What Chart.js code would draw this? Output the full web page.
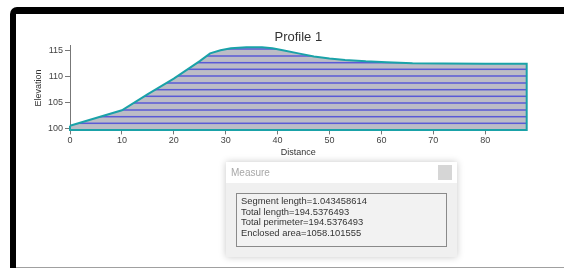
<!DOCTYPE html>
<html>
<head>
<meta charset="utf-8">
<script src="https://cdn.jsdelivr.net/npm/chart.js@4.4.1/dist/chart.umd.min.js"></script>
<style>
  html, body { margin: 0; padding: 0; background: #fff; }
  body { width: 564px; height: 269px; position: relative; overflow: hidden; font-family: 'Liberation Sans', Arial, sans-serif; }
  #wrap { position: absolute; left: 0; top: 0; width: 564px; height: 160px; }
  #frame { position: absolute; left: 10px; top: 7px; width: 620px; height: 261px; border-top: 7px solid #000; border-left: 6px solid #000; border-top-left-radius: 7px; box-sizing: border-box; }
  #bottomLine { position: absolute; left: 16px; top: 267px; width: 548px; height: 1px; background: #a0a0a0; }
  #dlg { position: absolute; left: 226px; top: 162px; width: 231px; height: 95px; background: #f0f0f0; box-shadow: 0 0 7px rgba(0,0,0,0.22); }
  #dlgBar { position: absolute; left: 0; top: 0; width: 231px; height: 21px; background: #fff; }
  #dlgTitle { position: absolute; left: 5px; top: 5px; font-size: 10px; color: #a8a8a8; }
  #dlgBtn { position: absolute; left: 212px; top: 3px; width: 14px; height: 15px; background: #d6d6d6; }
  #dlgBox { position: absolute; left: 10px; top: 31px; width: 211px; height: 54px; border: 1px solid #8a8a8a; background: #f2f2f2; padding: 2px 0 0 4px; box-sizing: border-box; }
  #dlgBox div { font-size: 9.4px; line-height: 10.5px; color: #333; white-space: nowrap; }
</style>
</head>
<body>
<div id="wrap"><canvas id="chart" width="564" height="160"></canvas></div>
<div id="frame"></div>
<div id="bottomLine"></div>
<div id="dlg">
  <div id="dlgBar"><span id="dlgTitle">Measure</span><div id="dlgBtn"></div></div>
  <div id="dlgBox">
    <div>Segment length=1.043458614</div>
    <div>Total length=194.5376493</div>
    <div>Total perimeter=194.5376493</div>
    <div>Enclosed area=1058.101555</div>
  </div>
</div>
<script>
// Profile polygon (distance, elevation), closed down to the base line
const distance = [0, 5, 10, 15, 20, 25, 27, 29, 31, 34, 37, 39, 41, 44, 47, 50, 53, 57, 61, 66, 72, 80, 88, 88, 0, 0];
const elevation = [100.5, 102, 103.5, 106.6, 109.6, 113.0, 114.5, 115.1, 115.5, 115.7, 115.7, 115.5, 115.1, 114.5, 113.9, 113.5, 113.2, 112.95, 112.8, 112.6, 112.55, 112.5, 112.5, 99.7, 99.7, 100.5];

const xTicks = [0, 10, 20, 30, 40, 50, 60, 70, 80];
const yTicks = [100, 105, 110, 115];

// Hatch pattern: gray with blue horizontal lines
function makeHatch() {
  const c = document.createElement('canvas');
  c.width = 8;
  c.height = 27;
  const g = c.getContext('2d');
  g.fillStyle = '#bcbcc6';
  g.fillRect(0, 0, 8, 27);
  g.fillStyle = '#5a5ad6';
  [2, 8.7, 15.3, 22].forEach(y => g.fillRect(0, y - 0.75, 8, 1.5));
  return g.createPattern(c, 'repeat');
}

const ctx = document.getElementById('chart').getContext('2d');
const font = "'Liberation Sans', Arial, sans-serif";

new Chart(ctx, {
  type: 'line',
  data: {
    datasets: [{
      data: distance.map((d, i) => ({ x: d, y: elevation[i] })),
      borderColor: '#1aa2a8',
      borderWidth: 2,
      backgroundColor: makeHatch(),
      fill: 'shape',
      pointRadius: 0,
      tension: 0,
      clip: false
    }]
  },
  options: {
    responsive: false,
    animation: false,
    layout: { padding: { left: 0, right: 37.3, top: 0, bottom: 0 } },
    plugins: {
      legend: { display: false },
      tooltip: { enabled: false },
      title: {
        display: true,
        text: 'Profile 1',
        fullSize: false,
        color: '#333',
        font: { family: font, size: 13, weight: 'normal' },
        padding: { top: 30, bottom: 0 }
      }
    },
    scales: {
      x: {
        type: 'linear',
        min: 0,
        max: 88,
        afterBuildTicks: s => { s.ticks = xTicks.map(v => ({ value: v })); },
        afterFit: s => { s.height = 29.6; },
        grid: { drawOnChartArea: false, drawTicks: true, tickLength: 4, color: '#777' },
        border: { display: true, color: '#777' },
        ticks: { color: '#444', padding: 1, maxRotation: 0, font: { family: font, size: 9 } },
        title: { display: true, text: 'Distance', color: '#333', padding: { top: 0, bottom: 2 }, font: { family: font, size: 9 } }
      },
      y: {
        min: 99.6,
        max: 116,
        afterBuildTicks: s => { s.ticks = yTicks.map(v => ({ value: v })); },
        afterFit: s => { s.width = 70; },
        grid: { drawOnChartArea: false, drawTicks: true, tickLength: 5, color: '#777' },
        border: { display: true, color: '#777' },
        ticks: { color: '#444', padding: 2, font: { family: font, size: 9 } },
        title: { display: true, text: 'Elevation', color: '#333', padding: { top: 33, bottom: 0 }, font: { family: font, size: 9 } }
      }
    }
  }
});
</script>
</body>
</html>
